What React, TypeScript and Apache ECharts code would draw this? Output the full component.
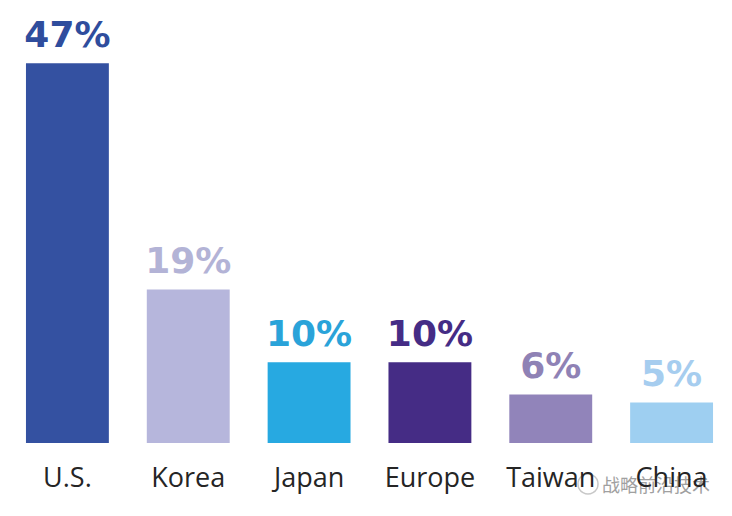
import React, { useEffect, useRef } from "react";
import * as echarts from "echarts";

const categories = ["U.S.", "Korea", "Japan", "Europe", "Taiwan", "China"];
const values = [47, 19, 10, 10, 6, 5];
const barColors = ["#3451a1", "#b6b6dc", "#27a9e1", "#452c85", "#9184ba", "#9ecff1"];
const labelColors = ["#2f4d9d", "#b3b3d6", "#2aa3d9", "#452c85", "#8f82b5", "#a6cdef"];

export default function App() {
  const ref = useRef<HTMLDivElement>(null);
  useEffect(() => {
    if (!ref.current) return;
    const chart = echarts.init(ref.current, null, { renderer: "svg" });
    chart.setOption({
      animation: false,
      backgroundColor: "#ffffff",
      grid: { left: 7, right: 0, top: 39, bottom: 73, containLabel: false },
      xAxis: {
        type: "category",
        data: categories,
        axisLine: { show: false },
        axisTick: { show: false },
        axisLabel: {
          color: "#252525",
          fontFamily: "Open Sans",
          fontSize: 27,
          margin: 20,
          interval: 0,
        },
      },
      yAxis: {
        type: "value",
        min: 0,
        max: 50,
        show: false,
        splitLine: { show: false },
      },
      series: [
        {
          type: "bar",
          barWidth: "68.6%",
          data: values.map((v, i) => ({
            value: v,
            itemStyle: { color: barColors[i] },
            label: { color: labelColors[i] },
          })),
          label: {
            show: true,
            position: "top",
            distance: 11,
            formatter: "{c}%",
            fontFamily: "DejaVu Sans",
            fontWeight: "bold",
            fontSize: 36,
          },
        },
      ],
      graphic: [
        {
          type: "circle",
          shape: { cx: 588, cy: 484, r: 10 },
          style: { fill: "none", stroke: "#c8c8c8", lineWidth: 1.5 },
        },
        {
          type: "text",
          x: 602,
          y: 484,
          style: {
            text: "战略前沿技术",
            fontFamily: "Noto Sans CJK SC",
            fontSize: 18,
            fill: "#a0a0a0",
            stroke: "#ffffff",
            lineWidth: 2,
            verticalAlign: "middle",
          },
        },
      ],
    });
    return () => chart.dispose();
  }, []);
  return (
    <div
      ref={ref}
      style={{ position: "fixed", left: 0, top: 0, width: 732, height: 516 }}
    />
  );
}
